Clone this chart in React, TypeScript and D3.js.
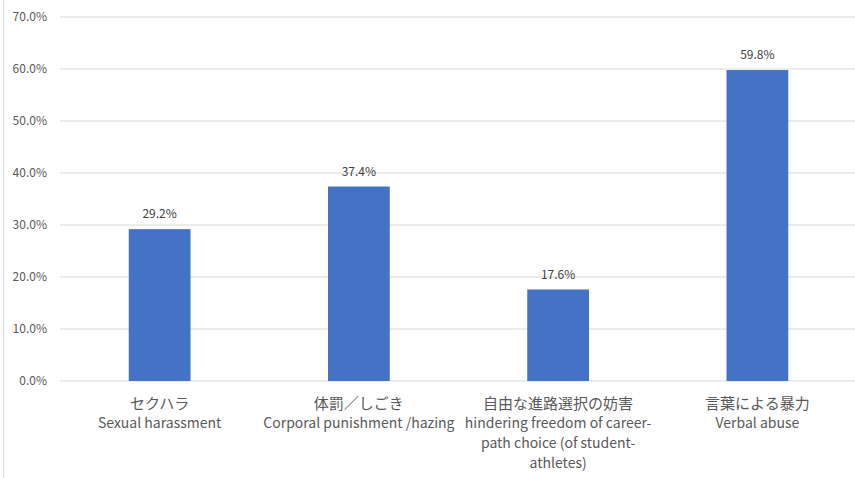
import * as d3 from 'd3';
import React from 'react';

// 카테고리 (일본어 + 영어 라벨 줄)
const categoriesJa = ['セクハラ', '体罰／しごき', '自由な進路選択の妨害', '言葉による暴力'];
const categoriesEn: string[][] = [
    ['Sexual harassment'],
    ['Corporal punishment /hazing'],
    ['hindering freedom of career-', 'path choice (of student-', 'athletes)'],
    ['Verbal abuse'],
];
const values = [29.2, 37.4, 17.6, 59.8];
const yTicks = [0, 10, 20, 30, 40, 50, 60, 70];

const App: React.FC = () => {
    const width = 855;
    const height = 478;
    const marginLeft = 60;
    const marginRight = -2;
    const marginTop = 17;
    const plotBottom = 381;

    const x = d3
        .scaleBand<number>()
        .domain(d3.range(values.length))
        .range([marginLeft, width - marginRight])
        .paddingInner(0.69)
        .paddingOuter(0.345);

    const y = d3.scaleLinear().domain([0, 70]).range([plotBottom, marginTop]);

    const font = '"Noto Sans CJK JP", "Noto Sans", sans-serif';

    return (
        <svg
            width={width}
            height={height}
            style={{ position: 'fixed', left: 0, top: 0, background: '#fff' }}
            fontFamily={font}
        >
            <line x1={3.5} x2={3.5} y1={0} y2={height} stroke="#d9d9d9" strokeWidth={1} />
            {/* 격자선과 y축 라벨 */}
            <g>
                {yTicks.map((t) => (
                    <g key={t}>
                        <line
                            x1={marginLeft}
                            x2={width}
                            y1={y(t)}
                            y2={y(t)}
                            stroke="#d9d9d9"
                            strokeWidth={1}
                        />
                        <text
                            x={47}
                            y={y(t)}
                            dy="0.35em"
                            textAnchor="end"
                            fontSize={12}
                            fill="#595959"
                        >
                            {t.toFixed(1)}%
                        </text>
                    </g>
                ))}
            </g>
            {/* 막대 */}
            <g fill="#4472c4">
                {values.map((v, i) => (
                    <rect
                        key={i}
                        x={x(i)}
                        y={y(v)}
                        width={x.bandwidth()}
                        height={y(0) - y(v)}
                    />
                ))}
            </g>
            {/* 데이터 라벨 */}
            <g>
                {values.map((v, i) => (
                    <text
                        key={i}
                        x={(x(i) ?? 0) + x.bandwidth() / 2}
                        y={y(v) - 15}
                        dy="0.35em"
                        textAnchor="middle"
                        fontSize={12}
                        fill="#404040"
                    >
                        {v.toFixed(1)}%
                    </text>
                ))}
            </g>
            {/* 카테고리 라벨 */}
            <g fill="#595959" textAnchor="middle">
                {categoriesJa.map((c, i) => {
                    const cx = (x(i) ?? 0) + x.bandwidth() / 2;
                    return (
                        <g key={i}>
                            <text x={cx} y={404} dy="0.35em" fontSize={15}>
                                {c}
                            </text>
                            {categoriesEn[i].map((line, j) => (
                                <text key={j} x={cx} y={423 + j * 20} dy="0.35em" fontSize={14}>
                                    {line}
                                </text>
                            ))}
                        </g>
                    );
                })}
            </g>
        </svg>
    );
};

export default App;
